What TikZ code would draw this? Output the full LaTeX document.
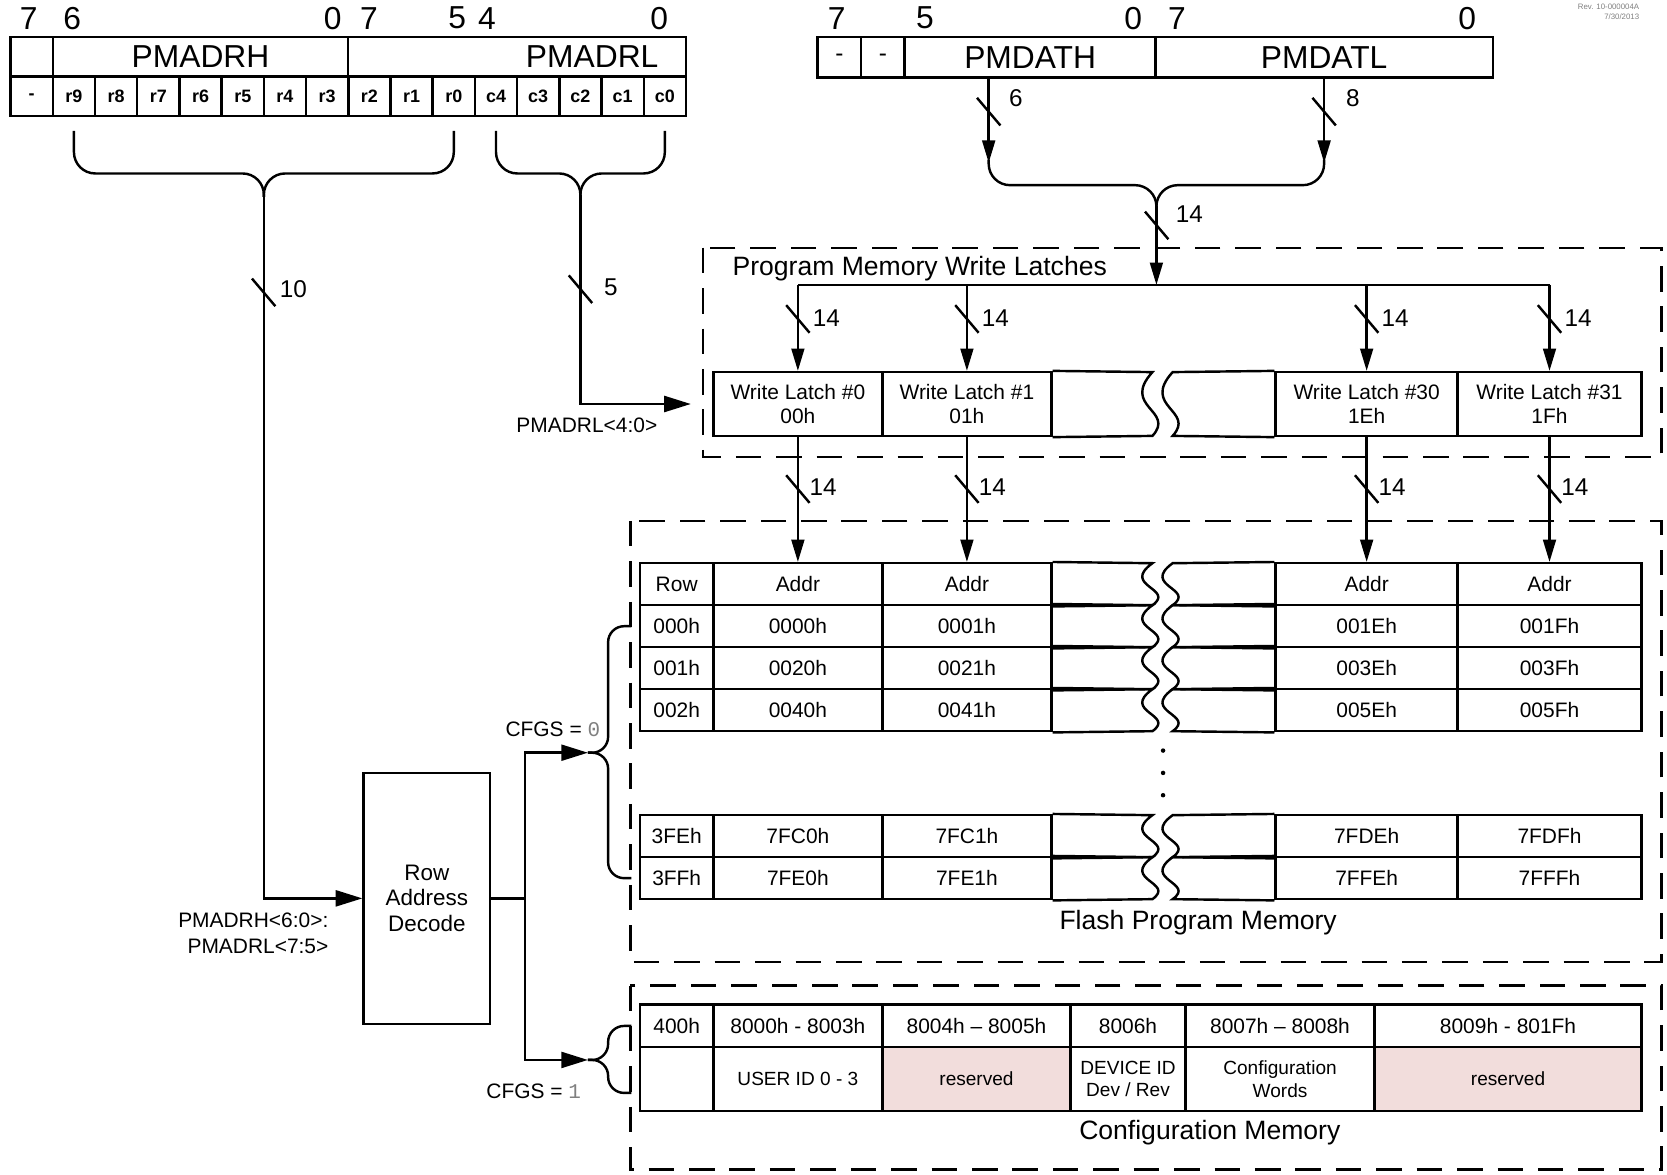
\documentclass[tikz,border=0pt]{standalone}
\usepackage{fontspec}
\setmainfont{Liberation Sans}
\setmonofont{Liberation Mono}
\usetikzlibrary{arrows.meta,calc}
\definecolor{resv}{RGB}{242,221,220}

\begin{document}
\begin{tikzpicture}[x=0.01cm,y=-0.01cm,line width=0.65pt,
  cell/.style={draw,inner sep=0pt,minimum height=0.395cm,align=center,font=\fontsize{5.6}{6.2}\selectfont},
  bitcell/.style={draw,inner sep=0pt,minimum width=0.397cm,minimum height=0.37cm,font=\fontsize{4.8}{5}\selectfont\bfseries},
  big/.style={inner sep=0pt,font=\fontsize{8.5}{9}\selectfont},
  buslabel/.style={inner sep=0pt,anchor=west,font=\fontsize{6.5}{7}\selectfont},
  title/.style={inner sep=0pt,font=\fontsize{7.1}{8}\selectfont},
  small/.style={inner sep=0pt,font=\fontsize{5.6}{7}\selectfont},
  fence/.style={dash pattern=on 0.24cm off 0.14cm},
  arr/.style={-{Triangle[length=0.21cm,width=0.12cm]}},
  bigarr/.style={-{Triangle[length=0.25cm,width=0.15cm]}}]
  \useasboundingbox (0,0) rectangle (1568,1105);

  \node[inner sep=0pt,anchor=north east,align=right,text=gray,font=\fontsize{2.1}{2.5}\selectfont] (rev) at (1543,3) {Rev. 10-000004A\\7/30/2013};

  \foreach \x/\t in {27/7,68/6,313/0,347/7,430/5,458/4,620/0,787/7,870/5,1066/0,1107/7,1380/0}
    \node[big] (bit\x) at (\x,17) {\t};

  \node[draw,inner sep=0pt,minimum width=0.397cm,minimum height=0.37cm] (adx) at (29.85,53.5) {};
  \node[draw,big,minimum width=2.778cm,minimum height=0.37cm] (adrh) at (188.6,53.5) {PMADRH};
  \node[draw,inner sep=0pt,minimum width=3.175cm,minimum height=0.37cm] (adrl) at (486.25,53.5) {};
  \node[big] (adrltext) at (557,53.5) {PMADRL};
  \foreach \t [count=\i from 0] in {-,r9,r8,r7,r6,r5,r4,r3,r2,r1,r0,c4,c3,c2,c1,c0}
    \node[bitcell] (a\i) at ({29.85+39.7*\i},90.5) {\t};

  \node[draw,inner sep=0pt,minimum width=0.41cm,minimum height=0.38cm,font=\fontsize{6.5}{7}\selectfont] (dx1) at (789.5,54) {-};
  \node[draw,inner sep=0pt,minimum width=0.41cm,minimum height=0.38cm,font=\fontsize{6.5}{7}\selectfont] (dx2) at (830.5,54) {-};
  \node[draw,big,minimum width=2.36cm,minimum height=0.38cm] (pmdath) at (969,54) {PMDATH};
  \node[draw,big,minimum width=3.17cm,minimum height=0.38cm] (pmdatl) at (1245.5,54) {PMDATL};

  \draw[fence] (661,233) rectangle (1563,430);
  \draw[fence] (593,490) rectangle (1563,905);
  \draw[fence] (593,927) rectangle (1563,1100);
  \node[title,anchor=west] (pmwl) at (688,253) {Program Memory Write Latches};
  \node[title] (fpm) at (1127,868) {Flash Program Memory};
  \node[title] (cfm) at (1138,1065) {Configuration Memory};

  \node[cell,minimum width=1.59cm,minimum height=0.6cm,font=\fontsize{5.6}{6.5}\selectfont] (L0) at (750.5,380) {Write Latch \#0\\00h};
  \node[cell,minimum width=1.59cm,minimum height=0.6cm,font=\fontsize{5.6}{6.5}\selectfont] (L1) at (909.5,380) {Write Latch \#1\\01h};
  \node[cell,minimum width=1.71cm,minimum height=0.6cm,font=\fontsize{5.6}{6.5}\selectfont] (L30) at (1285.5,380) {Write Latch \#30\\1Eh};
  \node[cell,minimum width=1.73cm,minimum height=0.6cm,font=\fontsize{5.6}{6.5}\selectfont] (L31) at (1457.5,380) {Write Latch \#31\\1Fh};
  \draw (L1.north east) -- (1084,350) .. controls (1054,383) and (1106,386) .. (1084,410) -- (L1.south east);
  \draw (L30.north west) -- (1103,350) .. controls (1073,383) and (1125,386) .. (1103,410) -- (L30.south west);

  \foreach \y/\r/\a/\b/\c/\d [count=\k] in {549.5/Row/Addr/Addr/Addr/Addr,589/000h/0000h/0001h/001Eh/001Fh,628.5/001h/0020h/0021h/003Eh/003Fh,668/002h/0040h/0041h/005Eh/005Fh,786.5/3FEh/7FC0h/7FC1h/7FDEh/7FDFh,826/3FFh/7FE0h/7FE1h/7FFEh/7FFFh}{
    \node[cell,minimum width=0.69cm] (rw\k) at (636.5,\y) {\r};
    \node[cell,minimum width=1.59cm] (ca\k) at (750.5,\y) {\a};
    \node[cell,minimum width=1.59cm] (cb\k) at (909.5,\y) {\b};
    \node[cell,minimum width=1.71cm] (cc\k) at (1285.5,\y) {\c};
    \node[cell,minimum width=1.73cm] (cd\k) at (1457.5,\y) {\d};
    \draw (cb\k.north east) -- (1084,{\y-19.75}) .. controls (1054,{\y+2}) and (1106,{\y+4}) .. (1084,{\y+19.75}) -- (cb\k.south east);
    \draw (cc\k.north west) -- (1103,{\y-19.75}) .. controls (1073,{\y+2}) and (1125,{\y+4}) .. (1103,{\y+19.75}) -- (cc\k.south west);
  }
  \foreach \y in {706,727,748}
    \fill (1094,\y) circle[radius=0.6pt];

  \foreach \x/\w/\a/\b/\f [count=\k] in {636.5/0.69/400h//white,750.5/1.59/8000h - 8003h/USER ID 0 - 3/white,918.5/1.77/8004h -- 8005h/reserved/resv,1061/1.08/8006h/{DEVICE ID\\Dev / Rev}/white,1204/1.78/8007h -- 8008h/{Configuration\\Words}/white,1418.5/2.51/8009h - 801Fh/reserved/resv}{
    \node[cell,minimum width=\w cm,minimum height=0.4cm] (k\k) at (\x,965) {\a};
    \node[cell,minimum width=\w cm,minimum height=0.6cm,fill=\f,font=\fontsize{5.1}{6}\selectfont] (m\k) at (\x,1015) {\b};
  }

  \node[draw,minimum width=1.19cm,minimum height=2.36cm,align=center,inner sep=0pt,font=\fontsize{6}{6.9}\selectfont] (rad) at (401.5,845) {Row\\Address\\Decode};
  \node[small,align=right,anchor=east] (adrlab) at (310,878) {PMADRH<6:0>:\\PMADRL<7:5>};
  \node[small] (collab) at (552,400) {PMADRL<4:0>};

  \coordinate (ja) at ($(a1.south)!0.5!(a10.south)+(0,53)$);
  \coordinate (jb) at ($(a11.south)!0.5!(a15.south)+(0,53)$);
  \draw[rounded corners=0.2cm] ([yshift=-0.13cm]a1.south) |- (ja) -- ++(0,22);
  \draw[rounded corners=0.2cm] ([yshift=-0.13cm]a10.south) |- (ja) -- ++(0,22);
  \draw[rounded corners=0.2cm] ([yshift=-0.13cm]a11.south) |- (jb) -- ++(0,22);
  \draw[rounded corners=0.2cm] ([yshift=-0.13cm]a15.south) |- (jb) -- ++(0,22);
  \draw[bigarr] ([yshift=-0.2cm]ja) |- (rad.west);
  \draw[bigarr] ([yshift=-0.2cm]jb) |- ([xshift=-0.2cm]L0.west);

  \coordinate (jd) at ($([xshift=-0.39cm]pmdath.south)!0.5!(pmdatl.south)+(0,100)$);
  \coordinate (bus) at (1088,268);
  \draw[arr] ([xshift=-0.39cm]pmdath.south) -- ++(0,79);
  \draw[arr] (pmdatl.south) -- ++(0,79);
  \draw[rounded corners=0.2cm] ([xshift=-0.39cm]pmdath.south) ++(0,76) |- (jd) -- ++(0,22);
  \draw[rounded corners=0.2cm] (pmdatl.south) ++(0,76) |- (jd) -- ++(0,22);
  \draw[arr] ([yshift=-0.2cm]jd) -- (jd |- bus);
  \draw (L0.north |- bus) -- (L31.north |- bus);
  \foreach \n in {L0,L1,L30,L31}
    \draw[arr] (\n.north |- bus) -- (\n.north);
  \foreach \a/\b in {L0/ca1,L1/cb1,L30/cc1,L31/cd1}
    \draw[arr] (\a.south) -- (\b.north);

  \coordinate (tip0) at (553,708);
  \coordinate (tip1) at (553,997);
  \draw[bigarr] (rad.east) -- ++(31.5,0) |- (tip0);
  \draw[bigarr] (rad.east) -- ++(31.5,0) |- (tip1);
  \draw[rounded corners=0.15cm] ([xshift=-0.07cm]rw2.west) -| ([xshift=0.19cm]tip0) -- (tip0);
  \draw[rounded corners=0.15cm] ([xshift=-0.07cm]rw6.west) -| ([xshift=0.19cm]tip0) -- (tip0);
  \draw[rounded corners=0.15cm] ([xshift=-0.07cm]k1.west) -| ([xshift=0.19cm]tip1) -- (tip1);
  \draw[rounded corners=0.15cm] ([xshift=-0.07cm,yshift=-0.13cm]m1.west) -| ([xshift=0.19cm]tip1) -- (tip1);
  \node[small] (cfg0) at (520,686) {CFGS = {\color{gray}\texttt{0}}};
  \node[small] (cfg1) at (502,1026) {CFGS = {\color{gray}\texttt{1}}};

  \foreach \x/\y in {248/275,546/272,930/105,1245.5/105,1088/212,750.5/300,909.5/300,1285.5/300,1457.5/300,750.5/460,909.5/460,1285.5/460,1457.5/460}
    \draw ({\x-11},{\y-13}) -- ({\x+11},{\y+13});
  \foreach \x/\y/\t in {262/272/10,567/270/5,948/92/6,1265/92/8,1105/201/14,763.5/299/14,922.5/299/14,1298.5/299/14,1470.5/299/14,760.5/458/14,919.5/458/14,1295.5/458/14,1467.5/458/14}
    \node[buslabel] at (\x,\y) {\t};
\end{tikzpicture}
\end{document}
